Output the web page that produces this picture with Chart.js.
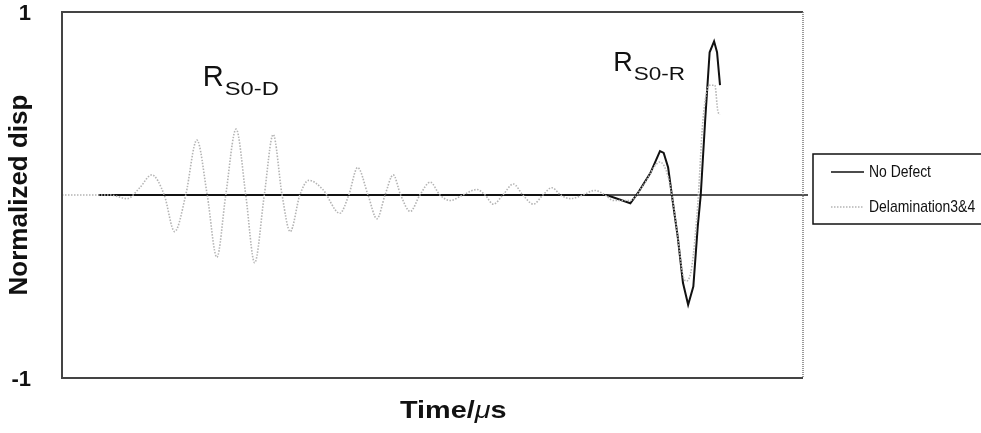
<!DOCTYPE html>
<html><head><meta charset="utf-8">
<script src="https://cdn.jsdelivr.net/npm/chart.js@4"></script>
<style>html,body{margin:0;padding:0;background:#fff}#wrap{width:981px;height:433px}</style>
</head><body><div id="wrap"><canvas id="c" width="981" height="433"></canvas></div>
<script>
// ---- data ----
const seriesNames = ['No Defect', 'Delamination3&4'];
const noDefectTime = [4.9, 73.5, 76.7, 77.7, 79.4, 80.7, 81.2, 81.8, 82.3, 83.1, 83.8, 84.5, 85.2, 85.8, 86.2, 86.8, 87.4, 88.0, 88.4, 88.8];
const noDefectDisp = [0, 0, -0.045, 0.01, 0.12, 0.24, 0.23, 0.15, 0, -0.23, -0.48, -0.60, -0.50, -0.17, 0, 0.41, 0.78, 0.84, 0.78, 0.60];
const delamTime = [0, 6.5, 8.8, 10.5, 12.1, 13.8, 15.2, 16.7, 18.2, 19.6, 20.9, 22.1, 23.5, 24.8, 26.0, 27.3, 28.5, 29.7, 30.8, 32.1, 33.3, 35.2, 37.5, 38.7, 39.9, 41.3, 42.5, 43.6, 44.7, 45.7, 47.0, 48.3, 49.7, 51.0, 52.4, 54.1, 56.0, 57.1, 58.2, 59.5, 60.9, 62.2, 63.6, 64.9, 66.1, 67.3, 68.6, 70.3, 71.9, 73.3, 74.4, 76.7, 78.4, 80.7, 81.8, 82.5, 83.1, 83.8, 84.3, 85.0, 85.8, 86.5, 87.4, 88.1, 88.5, 88.8];
const delamDisp = [0, 0, -0.02, 0.04, 0.11, 0, -0.20, 0, 0.30, 0, -0.34, 0, 0.36, 0, -0.37, 0, 0.33, 0, -0.20, 0, 0.08, 0.03, -0.10, 0, 0.15, 0, -0.13, 0, 0.11, 0, -0.09, 0, 0.07, 0, -0.03, 0, 0.03, 0, -0.05, 0, 0.06, 0, -0.05, 0, 0.04, 0, -0.02, 0, 0.025, 0, -0.03, -0.03, 0.05, 0.18, 0.10, -0.05, -0.23, -0.44, -0.47, -0.39, -0.05, 0.41, 0.60, 0.60, 0.46, 0.44];
const yTickValues = [-1, 0, 1];
const yTickLabels = ['-1', '', '1'];
const yTitle = 'Normalized disp';
const xTitleParts = [['Time/', 'bold'], ['\u03bc', 'italic'], ['s', 'bold']];
const peakLabels = [['R', 'S0-D'], ['R', 'S0-R']];

// ---- layout / style (not data) ----
const FONT = '"Liberation Sans", Arial, sans-serif';
const peakLabelPos = [{t: 19.0, v: 0.596, size: 29, sub: 19}, {t: 74.4, v: 0.678, size: 27, sub: 18}];

const zip = (xs, ys) => xs.map((x, i) => ({x: x, y: ys[i]}));

const decor = {
  id: 'decor',
  beforeDraw(chart) {
    const c = chart.ctx;
    c.save();
    c.fillStyle = '#fff';
    c.fillRect(0, 0, chart.width, chart.height);
    c.restore();
  },
  beforeDatasetsDraw(chart) {
    const c = chart.ctx, a = chart.chartArea, xs = chart.scales.x, ys = chart.scales.y;
    c.save();
    const y0 = ys.getPixelForValue(0);
    c.strokeStyle = '#1a1a1a';
    c.lineWidth = 1.6;
    c.beginPath();
    c.moveTo(xs.getPixelForValue(noDefectTime[0]), y0);
    c.lineTo(a.right + 5, y0);
    c.stroke();
    c.restore();
  },
  afterDraw(chart) {
    const c = chart.ctx, a = chart.chartArea, xs = chart.scales.x, ys = chart.scales.y;
    c.save();
    c.strokeStyle = '#444';
    c.lineWidth = 2;
    c.beginPath();
    c.moveTo(a.right, a.top); c.lineTo(a.left, a.top); c.lineTo(a.left, a.bottom); c.lineTo(a.right, a.bottom);
    c.stroke();
    c.strokeStyle = '#777';
    c.lineWidth = 1.5;
    c.setLineDash([1, 1]);
    c.beginPath(); c.moveTo(a.right, a.top); c.lineTo(a.right, a.bottom); c.stroke();
    c.setLineDash([]);

    c.fillStyle = '#111';
    c.textBaseline = 'alphabetic';
    c.textAlign = 'left';
    peakLabels.forEach((p, i) => {
      const pos = peakLabelPos[i];
      const px = xs.getPixelForValue(pos.t), py = ys.getPixelForValue(pos.v);
      c.font = pos.size + 'px ' + FONT;
      c.fillText(p[0], px, py);
      const w = c.measureText(p[0]).width;
      c.font = pos.sub + 'px ' + FONT;
      c.save();
      c.translate(px + w + 1, py + 9);
      c.scale(1.25, 1);
      c.fillText(p[1], 0, 0);
      c.restore();
    });

    let tx = 400;
    const ty = 418;
    xTitleParts.forEach(([txt, st]) => {
      c.font = (st === 'bold' ? 'bold ' : st === 'italic' ? 'italic ' : '') + '24px ' + FONT;
      c.save();
      c.translate(tx, ty);
      c.scale(1.2, 1);
      c.fillText(txt, 0, 0);
      c.restore();
      tx += c.measureText(txt).width * 1.2;
    });

    const lx = 813, ly = 154, lw = 200, lh = 70;
    c.strokeStyle = '#111';
    c.lineWidth = 1.5;
    c.strokeRect(lx, ly, lw, lh);
    const rows = [172, 207];
    chart.data.datasets.forEach((ds, i) => {
      const yy = rows[i];
      c.strokeStyle = ds.borderColor;
      c.lineWidth = i === 0 ? 1.6 : 1.3;
      c.setLineDash(ds.borderDash || []);
      c.beginPath(); c.moveTo(831, yy); c.lineTo(864, yy); c.stroke();
      c.setLineDash([]);
      c.fillStyle = '#111';
      c.textBaseline = 'middle';
      c.font = '17px ' + FONT;
      c.save();
      c.translate(869, yy);
      c.scale(0.82, 1);
      c.fillText(ds.label, 0, 0);
      c.restore();
    });
    c.restore();
  }
};

new Chart(document.getElementById('c'), {
  type: 'line',
  data: {
    datasets: [
      {label: seriesNames[0], data: zip(noDefectTime, noDefectDisp), borderColor: '#111', borderWidth: 2, pointRadius: 0, tension: 0, order: 2},
      {label: seriesNames[1], data: zip(delamTime, delamDisp), borderColor: '#b4b4b4', borderWidth: 1.6, borderDash: [1.5, 1.5], pointRadius: 0, cubicInterpolationMode: 'monotone', order: 1}
    ]
  },
  options: {
    responsive: false,
    devicePixelRatio: 1,
    animation: false,
    layout: {padding: {top: 12, right: 178, left: 0, bottom: 0}},
    plugins: {legend: {display: false}, tooltip: {enabled: false}},
    scales: {
      x: {
        type: 'linear', min: 0, max: 100,
        grid: {display: false, drawTicks: false}, border: {display: false},
        ticks: {display: false},
        afterFit(s) { s.height = 55; s.paddingLeft = 0; s.paddingRight = 0; }
      },
      y: {
        type: 'linear', min: -1, max: 1,
        afterBuildTicks(s) { s.ticks = yTickValues.map(v => ({value: v})); },
        grid: {display: false, drawTicks: false}, border: {display: false},
        ticks: {
          padding: 31, color: '#111', labelOffset: 2,
          font: {family: FONT, size: 22, weight: 'bold'},
          callback(v) { const i = yTickValues.indexOf(v); return i >= 0 ? yTickLabels[i] : ''; }
        },
        title: {display: true, text: yTitle, color: '#111', font: {family: FONT, size: 26, weight: 'bold'}, padding: {top: 4, bottom: 0}},
        afterFit(s) { s.width = 62; s.paddingTop = 0; s.paddingBottom = 0; }
      }
    }
  },
  plugins: [decor]
});
</script></body></html>
